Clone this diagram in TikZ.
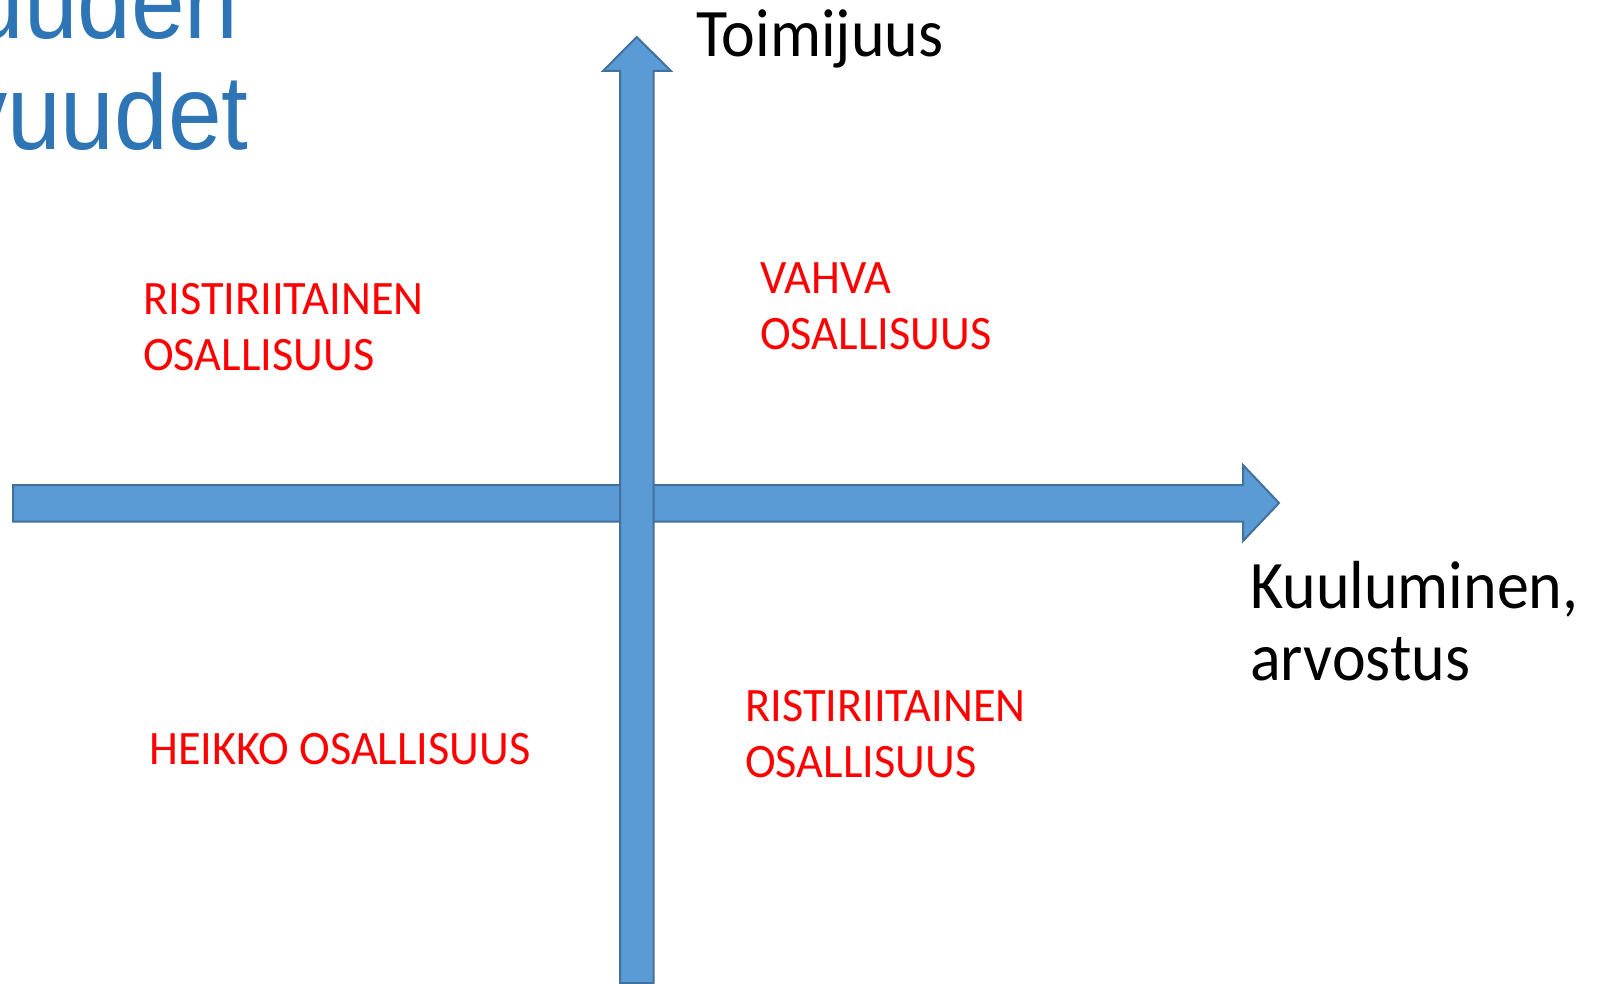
\documentclass[tikz,border=0pt]{standalone}
\usepackage{fontspec}
\setmainfont{Carlito}
\newfontfamily\redfont{Carlito}[FakeStretch=0.965]
\newfontfamily\axisfont{Carlito}[FakeStretch=0.94]
\newfontfamily\titlefont{Liberation Sans}[FakeStretch=0.91]
\definecolor{axisfill}{HTML}{5B9BD5}
\definecolor{axisline}{HTML}{41719C}
\definecolor{titleblue}{HTML}{2E75B6}
\tikzset{
  blockarrow/.style={fill=axisfill,draw=axisline,line width=1.5pt,line join=miter},
  quadrant/.style={text=red,inner sep=0pt,align=left,font=\redfont\fontsize{36}{42}\selectfont},
  axislabel/.style={inner sep=0pt,align=left,font=\axisfont\fontsize{51}{54}\selectfont},
  titleline/.style={inner sep=0pt,text=titleblue,font=\titlefont\fontsize{79.5}{83}\selectfont}
}
\begin{document}
\begin{tikzpicture}[x=0.75pt,y=-0.75pt]
\useasboundingbox (0,0) rectangle (1602,984);
\clip (0,0) rectangle (1602,984);
\pgfmathsetmacro{\hy}{503}
\pgfmathsetmacro{\vx}{636.7}
% horizontal axis
\draw[blockarrow] (13,485)--(1243,485)--(1243,465)--(1279,\hy)--(1243,541)--(1243,521.5)--(13,521.5)--cycle;
% vertical axis
\draw[blockarrow] (620,983)--(620,71)--(603,71)--(\vx,37)--(671,71)--(653.5,71)--(653.5,983)--cycle;
\node[titleline,anchor=base east] (title1) at (239,39) {Osallisuuden};
\node[titleline,anchor=base east] (title2) at (249,150) {ulottuvuudet};
\node[axislabel,anchor=base west] (toim) at (696,57) {Toimijuus};
% multi-line nodes: base is the last line
\node[axislabel,anchor=base west] (kuul) at (1250,680) {Kuuluminen,\\arvostus};
\node[quadrant,anchor=base west] (ristiA) at (143,370) {RISTIRIITAINEN\\OSALLISUUS};
\node[quadrant,anchor=base west] (vahva) at (760,349) {VAHVA\\OSALLISUUS};
\node[quadrant,anchor=base west] (heikko) at (149,764) {HEIKKO OSALLISUUS};
\node[quadrant,anchor=base west] (ristiB) at (745,777) {RISTIRIITAINEN\\OSALLISUUS};
\end{tikzpicture}
\end{document}
